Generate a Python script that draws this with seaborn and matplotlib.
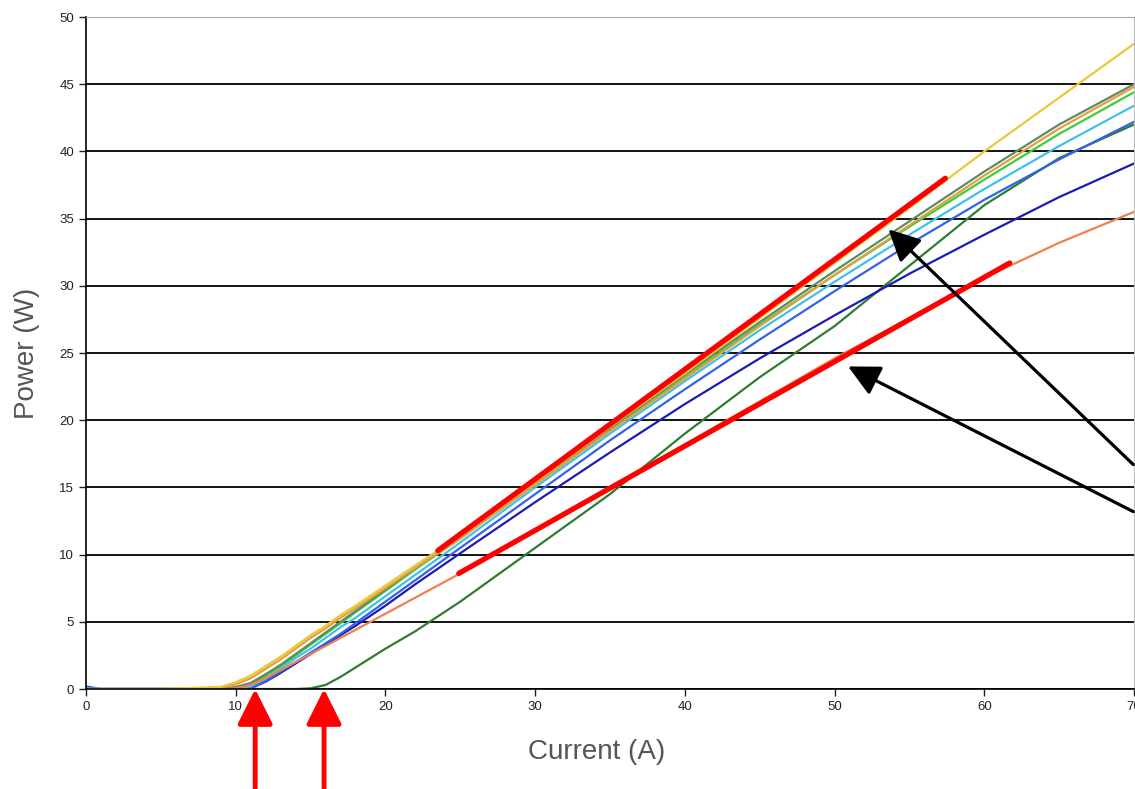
import numpy as np
import pandas as pd
import matplotlib.pyplot as plt
import seaborn as sns

# Datos: potencia (W) frente a corriente (A)
current = [0, 1, 5, 9, 10, 11, 12, 13, 14, 15, 16, 17, 18, 20, 22, 25, 30, 35, 40, 45, 50, 55, 60, 65, 70]

p_yellow = [0, 0, 0, 0.15, 0.5, 1.0, 1.7, 2.4, 3.2, 4.0, 4.7, 5.5, 6.2, 7.7, 9.2, 11.4, 15.4, 19.5, 23.5, 27.6, 31.7, 35.8, 40.0, 44.0, 48.0]
p_tan = [0, 0, 0, 0.1, 0.35, 0.8, 1.5, 2.2, 3.0, 3.8, 4.5, 5.3, 6.0, 7.5, 9.0, 11.2, 15.2, 19.2, 23.1, 27.0, 30.8, 34.5, 38.2, 41.7, 44.8]
p_graygreen = [0, 0, 0, 0, 0.15, 0.45, 1.1, 1.8, 2.6, 3.4, 4.2, 5.0, 5.8, 7.4, 9.0, 11.3, 15.4, 19.4, 23.4, 27.3, 31.1, 34.8, 38.5, 42.0, 45.0]
p_green = [0, 0, 0, 0, 0.1, 0.35, 1.0, 1.7, 2.5, 3.3, 4.1, 4.9, 5.7, 7.3, 8.9, 11.2, 15.3, 19.3, 23.2, 27.1, 30.8, 34.4, 37.9, 41.3, 44.4]
p_cyan = [0, 0, 0, 0, 0, 0.2, 0.8, 1.5, 2.3, 3.0, 3.8, 4.6, 5.3, 6.9, 8.5, 10.9, 15.0, 19.0, 22.9, 26.7, 30.3, 33.8, 37.2, 40.4, 43.4]
p_blue = [0.2, 0, 0, 0, 0, 0.05, 0.6, 1.3, 2.0, 2.7, 3.4, 4.1, 4.9, 6.5, 8.1, 10.5, 14.5, 18.5, 22.3, 26.0, 29.6, 33.1, 36.4, 39.4, 42.2]
p_darkblue = [0, 0, 0, 0, 0, 0.05, 0.55, 1.2, 1.9, 2.6, 3.3, 4.0, 4.7, 6.2, 7.8, 10.1, 13.9, 17.6, 21.2, 24.6, 27.8, 30.9, 33.8, 36.6, 39.1]
p_orange = [0, 0, 0, 0, 0.05, 0.3, 0.8, 1.4, 2.0, 2.6, 3.2, 3.8, 4.4, 5.6, 6.8, 8.6, 11.8, 15.0, 18.2, 21.4, 24.6, 27.6, 30.6, 33.2, 35.5]
p_darkgreen = [0, 0, 0, 0, 0, 0, 0, 0, 0, 0.05, 0.3, 0.9, 1.6, 3.0, 4.3, 6.5, 10.5, 14.5, 19.0, 23.2, 27.0, 31.5, 36.0, 39.5, 42.0]

series = {
    "darkgreen": p_darkgreen,
    "darkblue": p_darkblue,
    "blue": p_blue,
    "cyan": p_cyan,
    "green": p_green,
    "graygreen": p_graygreen,
    "tan": p_tan,
    "orange": p_orange,
    "yellow": p_yellow,
}
colores = {
    "darkgreen": "#2e7d32",
    "darkblue": "#1c1cb4",
    "blue": "#3462e8",
    "cyan": "#3ec0ee",
    "green": "#3ccc3c",
    "graygreen": "#5e8c5e",
    "tan": "#e0a040",
    "orange": "#f08050",
    "yellow": "#ecc838",
}

df = pd.concat([pd.DataFrame({"Current": current, "Power": v, "serie": k}) for k, v in series.items()])

sns.set_style("white")
plt.rcParams["font.family"] = ["Liberation Sans", "DejaVu Sans"]

fig = plt.figure(figsize=(11.35, 7.89), dpi=100)
ax = fig.add_axes([86 / 1135, 1 - 689 / 789, 1048 / 1135, 672 / 789])

sns.lineplot(data=df, x="Current", y="Power", hue="serie", palette=colores,
             linewidth=1.6, legend=False, ax=ax, sort=False)

ax.set_xlim(0, 70)
ax.set_ylim(0, 50)
ax.set_xticks(range(0, 71, 10))
ax.set_yticks(range(0, 51, 5))
ax.grid(axis="y", color="black", linewidth=1.3)
ax.set_axisbelow(True)
ax.tick_params(axis="both", labelsize=9.5, colors="#222222", length=5, width=1, direction="out",
               left=True, bottom=True)
for s in ["left", "bottom"]:
    ax.spines[s].set_color("black")
    ax.spines[s].set_linewidth(1.2)
ax.spines["top"].set_color("#aaaaaa")
ax.spines["right"].set_color("#bbbbbb")

ax.set_xlabel("Current (A)", fontsize=20, color="#555555")
ax.set_ylabel("Power (W)", fontsize=20, color="#555555")
ax.xaxis.set_label_coords(0.487, -0.075)
ax.yaxis.set_label_coords(-0.044, 0.5)

# Anotaciones: rectas rojas
ax.plot([23.5, 57.4], [10.3, 38.0], color="red", linewidth=3.8, solid_capstyle="round")
ax.plot([24.9, 61.7], [8.6, 31.7], color="red", linewidth=3.8, solid_capstyle="round")

# Flechas rojas desde abajo
for xa in [11.3, 15.9]:
    ax.annotate("", xy=(xa, 0), xytext=(xa, -7.4), annotation_clip=False,
                arrowprops=dict(arrowstyle="-|>,head_length=0.6,head_width=0.3",
                                color="red", lw=3.5, mutation_scale=36, shrinkA=0, shrinkB=0))

# Flechas negras
ax.annotate("", xy=(53.6, 34.2), xytext=(69.95, 16.7), annotation_clip=False,
            arrowprops=dict(arrowstyle="-|>,head_length=0.6,head_width=0.3",
                            color="black", lw=2.3, mutation_scale=32, shrinkA=0, shrinkB=0))
ax.annotate("", xy=(50.9, 24.0), xytext=(69.95, 13.2), annotation_clip=False,
            arrowprops=dict(arrowstyle="-|>,head_length=0.6,head_width=0.3",
                            color="black", lw=2.3, mutation_scale=32, shrinkA=0, shrinkB=0))

plt.savefig("out.png", dpi=100)
